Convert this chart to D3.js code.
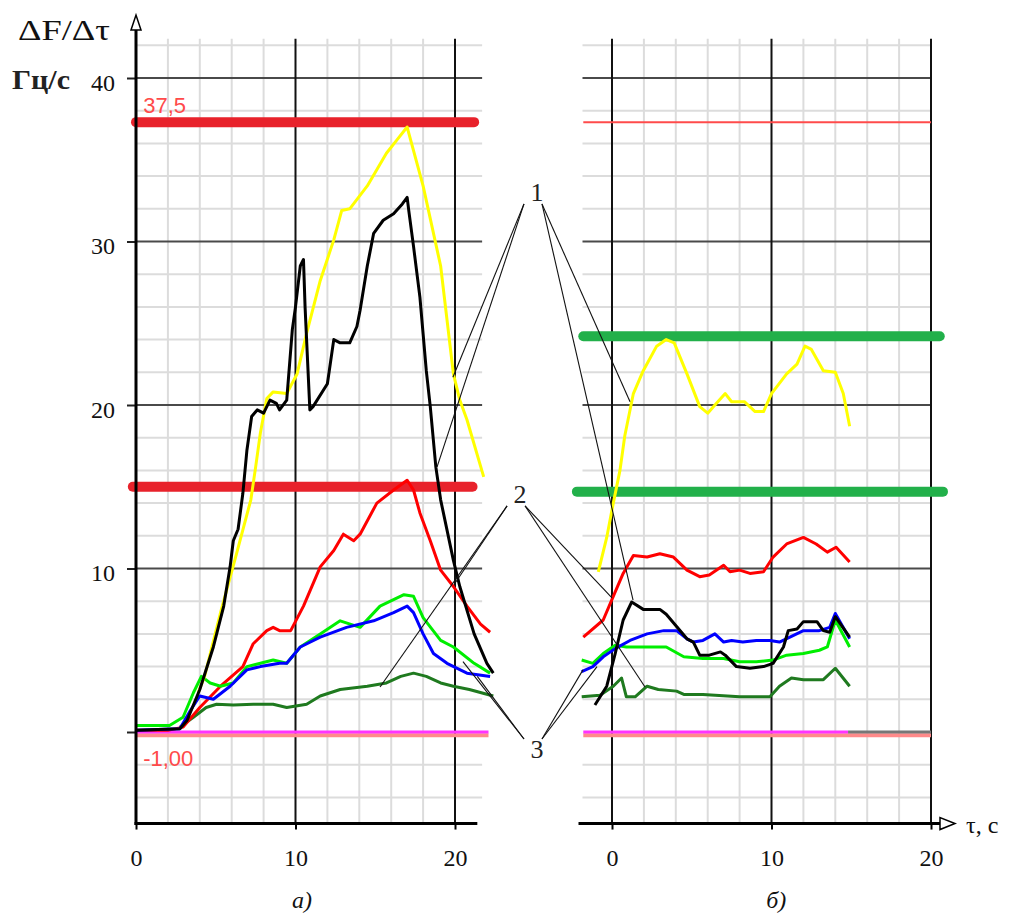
<!DOCTYPE html>
<html>
<head>
<meta charset="utf-8">
<script src="https://cdn.jsdelivr.net/npm/d3@7"></script>
<style>
body{margin:0;background:#fff;}
svg{display:block;}
</style>
</head>
<body>
<div id="plot"></div>
<script>
// values
var xTicks = [0,10,20];
var yTicks = [0,10,20,30,40];
var yTickLabels = ['','10','20','30','40'];

// panel а)
var leftYellow = [[3.9,2.4],[4.3,3.4],[5.3,7.3],[6.3,10.9],[7.2,14.2],[7.5,16.2],[7.8,18.3],[8.2,20.4],[8.6,20.8],[9.45,20.7],[10.1,21.9],[10.7,24.4],[11.55,27.6],[12.4,30.1],[12.9,31.9],[13.4,32.0],[14.5,33.4],[15.7,35.4],[16.35,36.2],[17.0,37.0],[18.0,33.4],[19.1,28.5],[19.9,21.9],[20.3,20.3],[20.75,19.1],[21.8,15.6]];
var leftBlack = [[0,0.1],[2.75,0.2],[3.2,0.7],[4.0,2.6],[4.85,5.2],[5.5,7.7],[5.9,10.1],[6.1,11.7],[6.4,12.4],[6.7,14.6],[6.95,17.2],[7.25,19.3],[7.6,19.7],[8.0,19.5],[8.4,20.3],[8.8,20.1],[9.0,19.7],[9.45,20.3],[9.8,24.6],[10.0,26.0],[10.3,28.5],[10.5,28.9],[10.6,26.0],[10.9,19.7],[11.1,19.9],[12.0,21.3],[12.4,24.0],[12.8,23.8],[13.4,23.8],[13.85,24.8],[14.05,25.8],[14.5,28.5],[14.9,30.5],[15.5,31.3],[16.15,31.7],[16.7,32.3],[17.0,32.7],[17.1,31.9],[17.4,29.7],[17.8,26.6],[18.2,22.1],[18.45,19.9],[18.8,16.2],[19.1,14.2],[19.9,10.5],[20.3,8.9],[21.2,6.0],[22.0,4.2],[22.4,3.6]];
var leftRed = [[0,0.1],[2.0,0.1],[2.95,0.3],[4.0,1.5],[5.3,2.8],[6.7,4.0],[7.35,5.4],[8.2,6.2],[8.6,6.4],[9.0,6.2],[9.7,6.2],[10.5,7.7],[11.55,10.1],[12.4,11.1],[13.0,12.1],[13.65,11.7],[14.05,12.1],[15.1,14.0],[16.15,14.8],[17.0,15.4],[17.4,14.8],[17.8,13.4],[18.45,11.7],[19.1,9.9],[19.9,8.9],[20.75,7.7],[21.6,6.6],[22.2,6.1]];
var leftBlue = [[0,0.1],[2.75,0.2],[3.4,1.3],[4.0,2.2],[4.85,2.0],[5.9,2.8],[6.95,3.8],[7.8,4.0],[9.0,4.2],[9.45,4.2],[10.3,5.2],[11.55,5.8],[13.2,6.4],[14.9,6.8],[16.15,7.3],[17.0,7.7],[17.4,7.3],[18.0,6.0],[18.65,4.8],[19.5,4.2],[20.75,3.6],[22.2,3.4]];
var leftLightGreen = [[0,0.4],[2.1,0.4],[2.95,0.9],[3.6,2.4],[4.1,3.4],[4.65,3.0],[5.3,2.8],[6.1,3.0],[6.95,4.0],[7.8,4.2],[8.6,4.4],[9.45,4.2],[10.3,5.2],[11.55,6.0],[12.8,6.8],[14.05,6.4],[15.3,7.7],[16.8,8.4],[17.4,8.3],[18.0,7.0],[19.1,5.6],[19.9,5.2],[21.2,4.2],[22.2,3.6]];
var leftDarkGreen = [[2.75,0.3],[3.6,0.9],[4.4,1.5],[5.05,1.7],[6.1,1.65],[7.35,1.7],[8.6,1.7],[9.45,1.5],[10.7,1.7],[11.55,2.2],[12.8,2.6],[14.5,2.8],[15.7,3.0],[16.6,3.4],[17.4,3.6],[18.2,3.4],[19.1,3.0],[19.9,2.8],[20.9,2.6],[22.4,2.2]];

// panel б)
var rightYellow = [[-0.86,9.8],[-0.33,11.9],[0.08,14.0],[0.5,16.0],[0.8,18.1],[1.34,20.7],[1.96,22.1],[2.8,23.6],[3.4,24.0],[3.9,23.8],[4.7,21.9],[5.5,19.9],[6.0,19.5],[6.55,20.1],[7.1,20.7],[7.5,20.2],[8.3,20.2],[8.97,19.6],[9.5,19.6],[10.0,20.7],[10.95,21.9],[11.6,22.5],[12.1,23.6],[12.5,23.4],[13.25,22.1],[14.0,22.0],[14.5,20.7],[14.9,18.7]];
var rightRed = [[-1.8,5.8],[-0.55,6.85],[0.08,8.3],[0.7,9.7],[1.34,10.8],[2.2,10.7],[3.0,10.9],[3.85,10.7],[4.7,9.9],[5.5,9.5],[6.1,9.6],[7.0,10.2],[7.4,9.8],[8.0,9.9],[8.65,9.7],[9.5,9.8],[10.1,10.7],[10.95,11.5],[12.0,11.9],[12.8,11.5],[13.5,11.0],[14.05,11.3],[14.9,10.4]];
var rightBlack = [[-1.07,1.65],[-0.33,2.8],[0.2,4.8],[0.7,6.85],[1.23,7.95],[1.96,7.5],[3.0,7.5],[3.4,7.2],[4.05,6.45],[4.7,5.7],[5.1,5.5],[5.5,4.7],[6.1,4.7],[6.8,4.9],[7.1,4.7],[7.8,4.0],[8.65,3.9],[9.5,4.0],[10.1,4.2],[10.75,5.2],[11.05,6.2],[11.6,6.3],[12.0,6.75],[12.85,6.75],[13.25,6.2],[13.65,6.1],[14.0,7.05],[14.9,5.8]];
var rightBlue = [[-1.9,3.7],[-1.2,4.0],[-0.55,4.6],[0.2,5.1],[1.13,5.6],[2.2,6.0],[3.25,6.2],[4.05,6.2],[4.7,5.7],[5.1,5.5],[5.7,5.6],[6.45,6.0],[7.0,5.5],[7.5,5.6],[8.2,5.5],[9.05,5.6],[9.9,5.6],[10.5,5.5],[11.35,5.9],[12.0,6.2],[13.0,6.2],[13.65,6.4],[14.0,7.25],[14.9,5.7]];
var rightLightGreen = [[-1.9,4.4],[-1.2,4.2],[-0.55,4.8],[0.2,5.3],[0.9,5.2],[3.4,5.2],[4.5,4.6],[5.7,4.5],[7.0,4.5],[8.0,4.3],[9.05,4.3],[10.1,4.4],[10.95,4.7],[12.0,4.8],[13.0,5.0],[13.5,5.2],[14.0,6.85],[14.9,5.2]];
var rightDarkGreen = [[-1.9,2.15],[-0.75,2.25],[0.08,2.8],[0.6,3.3],[0.9,2.15],[1.45,2.15],[2.2,2.8],[2.9,2.6],[4.05,2.5],[4.5,2.3],[5.7,2.3],[8.0,2.15],[9.9,2.15],[10.5,2.8],[11.25,3.3],[12.0,3.2],[13.25,3.2],[14.0,3.9],[14.9,2.8]];

// limit lines: [value, from, to]
var leftRedLimits = [[37.3,0,21.2],[15.0,-0.2,21.1]];
var leftZero = [0,0,22.1];
var leftLow = [-0.2,0,22.1];
var limitLabels = [['37,5',37.3],['-1,00',-0.2]];
var rightRedLimit = [37.3,-1.8,20];
var rightGreenLimits = [[24.2,-1.8,20.55],[14.7,-2.2,20.75]];
var rightZero = [0,-1.8,14.8];
var rightZeroRest = [0,14.8,20];
var rightLow = [-0.2,-1.8,20];

// callout numbers (placed in panel а) units) and what they point at
var callouts = [
  {label:'1', x:25.14, y:32.97, left:[[19.87,21.7],[18.87,16.2]], right:[[1.13,20.2],[1.32,8.07]]},
  {label:'2', x:24.08, y:14.5, left:[[15.3,2.75],[20.0,9.1]], right:[[0,8.2],[2.07,2.75]]},
  {label:'3', x:25.14, y:-1.1, left:[[20.5,4.3],[21.4,3.4]], right:[[-1.82,3.8],[-0.94,4.0]]}
];

var W = 1017, H = 913;
var y = d3.scaleLinear().domain([0,40]).range([732,78]);
var xL = d3.scaleLinear().domain([0,20]).range([136,455]);
var xR = d3.scaleLinear().domain([0,20]).range([612,931]);
var yBottom = -5.6, yTop = 42.4;

var svg = d3.select('#plot').append('svg')
  .attr('width',W).attr('height',H);

var serif = '"Liberation Serif","DejaVu Serif",serif';
var sans = '"Liberation Sans",Arial,sans-serif';

// ---- grid ----
function grid(x, vMajor, hExtent){
  var g = svg.append('g');
  var minorH = d3.range(-4, 43, 2).filter(function(v){ return v % 10 !== 0; });
  var minorV = d3.range(2, 21, 2).filter(function(v){ return v % 10 !== 0; });
  g.selectAll('.hm').data(minorH).enter().append('line')
    .attr('x1',x(hExtent[0])).attr('x2',x(hExtent[1]))
    .attr('y1',function(d){return y(d);}).attr('y2',function(d){return y(d);})
    .attr('stroke','#dcdcdc').attr('stroke-width',2);
  g.selectAll('.vm').data(minorV).enter().append('line')
    .attr('x1',function(d){return x(d);}).attr('x2',function(d){return x(d);})
    .attr('y1',y(yBottom)).attr('y2',y(yTop))
    .attr('stroke','#dcdcdc').attr('stroke-width',2);
  g.selectAll('.hM').data([10,20,30,40]).enter().append('line')
    .attr('x1',x(hExtent[0])).attr('x2',x(hExtent[1]))
    .attr('y1',function(d){return y(d);}).attr('y2',function(d){return y(d);})
    .attr('stroke','#4a4a4a').attr('stroke-width',2);
  g.selectAll('.vM').data(vMajor).enter().append('line')
    .attr('x1',function(d){return x(d);}).attr('x2',function(d){return x(d);})
    .attr('y1',y(yBottom)).attr('y2',y(yTop))
    .attr('stroke','#111').attr('stroke-width',2);
}
grid(xL, [10,20], [0,21.7]);
grid(xR, [0,10,20], [-1.85,20]);

// ---- limit lines ----
function hline(x, d, color, w, cap){
  svg.append('line')
    .attr('x1',x(d[1])).attr('x2',x(d[2]))
    .attr('y1',y(d[0])).attr('y2',y(d[0]))
    .attr('stroke',color).attr('stroke-width',w)
    .attr('stroke-linecap',cap || 'butt');
}
hline(xL, leftLow, '#ff8a8a', 4);
hline(xL, leftZero, '#ff33ff', 3);
leftRedLimits.forEach(function(d){ hline(xL, d, '#e8222b', 10, 'round'); });
hline(xR, rightLow, '#ff8a8a', 4);
hline(xR, rightZero, '#ff33ff', 3);
hline(xR, rightZeroRest, '#777', 3);
hline(xR, rightRedLimit, '#ff4b4b', 2);
rightGreenLimits.forEach(function(d){ hline(xR, d, '#22b04a', 10, 'round'); });

svg.selectAll('.limlab').data(limitLabels).enter().append('text')
  .attr('x',xL(0.45)).attr('y',function(d){ return y(d[1]) + (d[1] > 0 ? -9 : 31); })
  .attr('font-family',sans).attr('font-size',22).attr('fill','#ff4a4a')
  .text(function(d){ return d[0]; });

// ---- curves ----
function curve(x, data, color){
  var line = d3.line().x(function(d){return x(d[0]);}).y(function(d){return y(d[1]);});
  svg.append('path').datum(data).attr('d',line)
    .attr('fill','none').attr('stroke',color).attr('stroke-width',3)
    .attr('stroke-linejoin','round');
}
curve(xL, leftDarkGreen, '#1f7a1f');
curve(xL, leftRed, '#ff0000');
curve(xL, leftLightGreen, '#00ee00');
curve(xL, leftBlue, '#0000ff');
curve(xL, leftYellow, '#ffff00');
curve(xL, leftBlack, '#000');
curve(xR, rightDarkGreen, '#1f7a1f');
curve(xR, rightRed, '#ff0000');
curve(xR, rightLightGreen, '#00ee00');
curve(xR, rightBlue, '#0000ff');
curve(xR, rightYellow, '#ffff00');
curve(xR, rightBlack, '#000');

// ---- axes ----
var axisL = d3.axisLeft(y).tickValues(yTicks).tickSize(9).tickPadding(12)
  .tickFormat(function(d,i){ return yTickLabels[i]; });
var gy = svg.append('g').attr('transform','translate('+xL(0)+',0)').call(axisL);
gy.select('.domain').remove();
gy.selectAll('.tick line').attr('stroke','#222').attr('stroke-width',2);
gy.selectAll('.tick text').attr('font-family',serif).attr('font-size',24).attr('fill','#111').attr('dy','0.5em');

[xL, xR].forEach(function(x){
  var ax = d3.axisBottom(x).tickValues(xTicks).tickSize(6).tickPadding(19);
  var g = svg.append('g').attr('transform','translate(0,'+y(yBottom)+')').call(ax);
  g.select('.domain').remove();
  g.selectAll('.tick line').attr('stroke','#000').attr('stroke-width',2);
  g.selectAll('.tick text').attr('font-family',serif).attr('font-size',24).attr('fill','#111');
});

// axis lines
svg.append('line').attr('x1',xL(0)).attr('x2',xL(0)).attr('y1',30).attr('y2',y(yBottom)+1.5)
  .attr('stroke','#000').attr('stroke-width',3);
svg.append('polygon').attr('points',[[xL(0)-5,30],[xL(0)+5,30],[xL(0),15]].join(' '))
  .attr('fill','#fff').attr('stroke','#000').attr('stroke-width',1.5);
svg.append('line').attr('x1',xL(0)-1.5).attr('x2',xL(21.4)).attr('y1',y(yBottom)).attr('y2',y(yBottom))
  .attr('stroke','#000').attr('stroke-width',3);
svg.append('line').attr('x1',xR(-2.1)).attr('x2',940).attr('y1',y(yBottom)).attr('y2',y(yBottom))
  .attr('stroke','#000').attr('stroke-width',3);
svg.append('polygon').attr('points',[[940,y(yBottom)-6],[940,y(yBottom)+6],[955,y(yBottom)]].join(' '))
  .attr('fill','#fff').attr('stroke','#000').attr('stroke-width',1.5);

// axis titles
svg.append('text').attr('x',18).attr('y',40).attr('font-family',serif).attr('font-size',30)
  .attr('textLength',92).attr('lengthAdjust','spacingAndGlyphs').attr('fill','#111').text('ΔF/Δτ');
svg.append('text').attr('x',12).attr('y',89).attr('font-family',serif).attr('font-size',27)
  .attr('font-weight','bold').attr('textLength',58).attr('lengthAdjust','spacingAndGlyphs')
  .attr('fill','#222').text('Гц/с');
svg.append('text').attr('x',966).attr('y',833).attr('font-family',serif).attr('font-size',24)
  .attr('fill','#111').text('τ, c');
svg.append('text').attr('x',xL(10.4)).attr('y',908).attr('text-anchor','middle')
  .attr('font-family',serif).attr('font-style','italic').attr('font-size',24).attr('fill','#111').text('а)');
svg.append('text').attr('x',xR(10.3)).attr('y',908).attr('text-anchor','middle')
  .attr('font-family',serif).attr('font-style','italic').attr('font-size',24).attr('fill','#111').text('б)');

// ---- callouts ----
callouts.forEach(function(c){
  var cx = xL(c.x), cy = y(c.y);
  [['L',c.left,xL],['R',c.right,xR]].forEach(function(s){
    s[1].forEach(function(t){
      var tx = s[2](t[0]), ty = y(t[1]);
      var sx = cx + (s[0]==='L' ? -13 : 5);
      var sy = cy + (ty > cy ? 11 : -11);
      svg.append('line').attr('x1',sx).attr('y1',sy).attr('x2',tx).attr('y2',ty)
        .attr('stroke','#111').attr('stroke-width',1.1);
    });
  });
  svg.append('text').attr('x',cx).attr('y',cy+8).attr('text-anchor','middle')
    .attr('font-family',serif).attr('font-size',26).attr('fill','#222').text(c.label);
});
</script>
</body>
</html>
